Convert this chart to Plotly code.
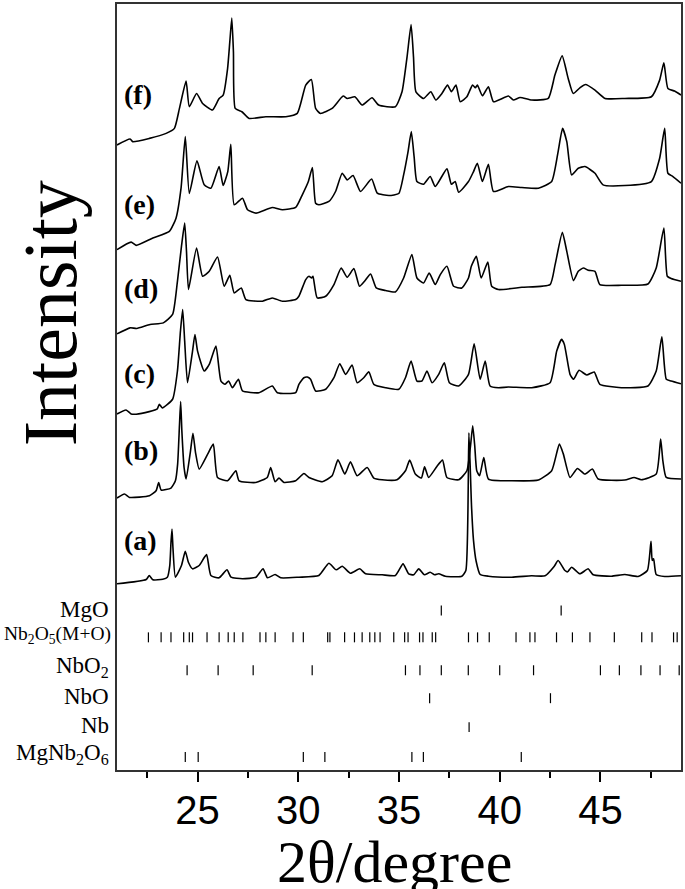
import plotly.graph_objects as go

# ---------------- data (2theta in degrees, intensity in arbitrary stacked units) ----------------
a_x = [21.0, 22.45, 22.6, 22.78, 23.27, 23.5, 23.62, 23.68, 23.73, 23.78, 23.9, 24.2, 24.39, 24.55, 24.75, 25.08, 25.3, 25.45,
       25.66, 26.07, 26.46, 26.66, 27.23, 27.9, 28.25, 28.47, 28.85, 29.13, 30.03, 31.02, 31.52, 31.88, 32.18, 32.59,
       33.05, 33.34, 34.16, 34.82, 35.2, 35.48, 35.73, 35.98, 36.26, 36.55, 36.77, 36.97, 37.3, 38.12, 38.32, 38.47,
       38.6, 38.7, 38.83, 39.03, 39.44, 40.6, 41.58, 42.25, 42.7, 42.9, 43.24, 43.37, 43.57, 43.98, 44.39, 44.64,
       45.55, 46.21, 46.87, 47.33, 47.51, 47.57, 47.64, 47.77, 48.19, 49.0]
a_y = [186.7, 191, 195, 190.7, 191.3, 193.3, 205, 228, 241.7, 222, 193.3, 205, 219.3, 208, 201.7, 205, 212, 216,
       195, 192.7, 200.7, 193.3, 191.7, 193.3, 201.7, 192.7, 196, 192.7, 193.3, 195, 207.3, 200.7, 204.3, 197.3,
       201.7, 196.7, 195.7, 195, 206.7, 196.7, 195.7, 201.7, 195.7, 198.3, 195.7, 196.7, 194.3, 194.3, 200, 338,
       265, 230, 209.3, 196, 194.3, 193.3, 194.7, 194.7, 204, 210, 200, 198.7, 203.3, 196.7, 201.7, 195.7,
       194.3, 196, 194, 200, 229.3, 210, 211.7, 196, 194, 194.7]

b_x = [21.0, 21.37, 21.62, 22.61, 22.94, 23.07, 23.19, 23.68, 23.9, 24.01, 24.1, 24.16, 24.22, 24.33, 24.43, 24.65,
       24.77, 24.9, 25.08, 25.5, 25.78, 25.99, 26.49, 26.9, 27.06, 27.89, 28.46, 28.63, 28.85, 29.04, 29.29, 29.87,
       30.28, 30.53, 31.19, 31.68, 31.97, 32.31, 32.59, 32.92, 33.42, 33.75, 34.16, 34.9, 35.32, 35.53, 35.81, 36.11,
       36.27, 36.47, 36.88, 37.16, 37.38, 37.96, 38.37, 38.55, 38.66, 38.76, 38.86, 39.0, 39.21, 39.44, 40.6, 41.92,
       42.58, 42.96, 43.16, 43.49, 43.86, 44.23, 44.6, 44.89, 46.21, 46.67, 47.03, 47.77, 47.99, 48.1, 48.27, 49.0]
b_y = [272.7, 276.7, 273.3, 275, 280, 288.3, 280.7, 282.7, 290, 306.7, 345, 369.3, 340, 303.3, 291.7, 320,
       337.7, 318, 301.7, 316.7, 326.7, 293.3, 290, 300, 290, 288.3, 293.3, 303.3, 289, 292.7, 288.3, 290,
       297.3, 293.3, 289, 295, 311, 296.7, 309, 295, 303.3, 292.7, 291, 291, 300, 310.7, 296.7, 292.7,
       304, 293.3, 304.3, 310.7, 293.3, 291, 300, 325, 345, 325, 300, 295, 313.3, 291.7, 290, 290.7,
       300, 326.7, 316.7, 293.3, 302.3, 296.7, 301.7, 291.7, 290.7, 293.3, 291, 296.7, 331.7, 310, 293.3, 291.7]

c_x = [21.0, 21.45, 21.7, 21.95, 22.6, 23.0, 23.1, 23.25, 23.76, 24.0, 24.15, 24.26, 24.36, 24.5, 24.75, 24.87, 25.0,
       25.33, 25.58, 25.91, 26.16, 26.36, 26.54, 26.73, 27.03, 27.23, 28.05, 28.71, 28.96, 29.87, 30.03, 30.28,
       30.45, 30.61, 30.86, 31.36, 31.77, 32.06, 32.35, 32.67, 32.92, 33.25, 33.5, 33.75, 34.33, 34.99, 35.32,
       35.6, 35.89, 36.14, 36.39, 36.64, 36.97, 37.25, 37.5, 37.96, 38.45, 38.73, 39.03, 39.28, 39.52, 39.94,
       40.43, 41.59, 42.5, 42.83, 43.07, 43.21, 43.49, 43.66, 43.94, 44.32, 44.69, 44.97, 46.04, 47.36, 47.77,
       48.05, 48.27, 48.51, 49.0]
c_y = [357, 361, 357, 356.7, 359.3, 362, 366.7, 363, 371.7, 400, 440, 461.7, 430, 388.3, 420, 436.7, 420,
       400, 406.7, 425, 390, 386.7, 390, 383.3, 391.7, 380, 378.3, 385, 378.3, 378.3, 386.7, 393.3,
       394, 391.7, 380, 381.7, 393.3, 407.3, 396.7, 406, 388.3, 393.3, 399.3, 386.7, 383.3, 381.7, 393.3,
       410, 390, 390, 400, 388.3, 396.7, 408.3, 388.3, 385, 396.7, 427.3, 391.7, 410, 385, 383.3,
       384, 383.3, 388.3, 420, 431.7, 426.7, 396.7, 391.7, 400.7, 396, 399, 386.7, 383.3, 385, 400,
       434.3, 391.7, 390, 387.3]

d_x = [21.0, 21.65, 21.98, 22.64, 23.3, 23.76, 24.0, 24.2, 24.36, 24.45, 24.55, 24.95, 25.25, 25.58, 25.99, 26.32,
       26.6, 26.82, 27.17, 27.4, 28.22, 28.71, 29.21, 29.87, 30.03, 30.37, 30.53, 30.66, 30.73, 30.94, 31.36,
       31.77, 32.13, 32.43, 32.76, 33.04, 33.29, 33.59, 33.87, 34.33, 34.82, 35.23, 35.64, 35.89, 36.22, 36.5,
       36.8, 37.05, 37.38, 37.71, 38.12, 38.45, 38.59, 38.84, 39.08, 39.41, 39.6, 39.94, 41.1, 42.5, 42.75, 43.11,
       43.33, 43.66, 43.9, 44.15, 44.4, 44.73, 44.97, 46.04, 47.36, 47.77, 48.15, 48.32, 48.51, 49.0]
d_y = [437.3, 443.3, 442.7, 446.7, 448.3, 456.7, 490, 525, 548.3, 520, 481.7, 523.3, 495, 500, 514.3, 485,
       496, 478.3, 483.3, 471.7, 470, 473.3, 470, 471.7, 475, 491.7, 495, 493.3, 495, 473.3, 475,
       486.7, 503.3, 494, 502.7, 485, 490, 497.3, 483.3, 480.7, 479.3, 493.3, 516.7, 493.3, 488.3, 498.3,
       486.7, 496.7, 505, 485, 483.3, 493.3, 505, 515, 493.3, 509.3, 485, 481.7, 484, 486.7, 506.7, 539,
       520, 490.7, 500, 503.3, 501, 500, 486.7, 486, 487.3, 503.3, 543.3, 495, 492.7, 490]

e_x = [21.0, 21.7, 21.95, 22.78, 23.6, 23.93, 24.18, 24.39, 24.59, 24.97, 25.33, 25.66, 26.07, 26.27, 26.5, 26.65,
       26.82, 27.23, 27.48, 27.9, 28.71, 29.21, 29.87, 30.2, 30.5, 30.7, 30.86, 31.02, 31.52, 31.85, 32.18, 32.43,
       32.72, 33.09, 33.64, 33.92, 34.5, 34.99, 35.23, 35.45, 35.61, 35.75, 35.89, 36.22, 36.55, 36.8, 37.38, 37.6,
       37.79, 37.96, 38.45, 38.7, 38.89, 39.14, 39.44, 39.69, 40.43, 41.1, 41.92, 42.58, 42.9, 43.12, 43.33, 43.57,
       43.9, 44.23, 44.73, 45.13, 46.21, 47.53, 47.94, 48.19, 48.35, 48.6, 49.0]
e_y = [521.7, 529.3, 526, 533.3, 540, 553.3, 583.3, 635, 578, 610.7, 586.7, 583.3, 605, 586, 600, 627.3,
       566.7, 573.3, 561.7, 558.3, 564, 561.7, 564, 576.7, 590, 604, 568.3, 566.7, 570, 580, 598.3, 591.7,
       596, 580, 592.5, 578.3, 576, 578, 596.7, 620, 640, 615, 590, 587.3, 595, 585, 602.7, 587.3,
       590, 579.3, 590, 600, 608.3, 590, 607.3, 580, 585, 584, 583.3, 590, 620, 643.3, 630, 596.7,
       603.3, 605, 598.3, 586.7, 586, 590, 613.3, 643.3, 598.3, 595, 588.3]

f_x = [21.0, 21.65, 21.78, 22.61, 23.44, 23.85, 24.1, 24.43, 24.59, 24.95, 25.25, 25.74, 26.07, 26.27, 26.49, 26.6,
       26.7, 26.78, 26.87, 27.2, 27.56, 28.39, 29.38, 29.95, 30.37, 30.65, 30.86, 31.1, 31.68, 32.23, 32.43, 32.81,
       33.17, 33.66, 33.99, 34.82, 35.15, 35.4, 35.6, 35.72, 35.84, 36.22, 36.58, 36.83, 37.13, 37.41, 37.6, 37.83,
       38.04, 38.37, 38.65, 38.79, 38.89, 39.14, 39.44, 39.69, 40.43, 40.68, 41.01, 41.59, 42.41, 42.74, 43.1, 43.4,
       43.65, 43.98, 44.26, 44.73, 45.23, 46.21, 47.53, 47.94, 48.15, 48.35, 48.68, 49.0]
f_y = [626.7, 632.7, 630, 633.3, 638.3, 643.3, 663.3, 690.7, 665, 678.3, 668.3, 661.7, 673.3, 676.7, 703.3, 730,
       754, 720, 663.3, 660, 653.3, 655, 655, 658.3, 686.7, 692.3, 663.3, 658.3, 663.3, 675.7, 673.3, 675,
       666.7, 674, 666.7, 665, 680, 715, 747.3, 715, 680, 673.3, 680, 671.7, 678.3, 686.7, 680, 686.7,
       670, 675, 686.7, 684, 686.7, 676, 685, 670, 675.7, 671.7, 674.3, 671.7, 673.3, 696.7, 716, 693.3,
       678.3, 684, 687.3, 681.7, 673.3, 673.3, 675, 691.7, 709, 683.3, 680.7, 676.7]

curve_names = ["(a)", "(b)", "(c)", "(d)", "(e)", "(f)"]

# reference pattern positions (2theta)
phase_names = ["MgO", "Nb<sub>2</sub>O<sub>5</sub>(M+O)", "NbO<sub>2</sub>", "NbO", "Nb", "MgNb<sub>2</sub>O<sub>6</sub>"]
ref_MgO = [37.1, 43.05]
ref_Nb2O5 = [22.56, 23.19, 23.68, 24.31, 24.59, 24.75, 25.47, 26.07, 26.52, 26.82, 27.25, 28.10, 28.39, 28.85,
             29.74, 30.25, 31.46, 31.57, 32.30, 32.79, 33.17, 33.55, 33.80, 34.06, 34.74, 35.28, 35.45, 36.02,
             36.19, 36.65, 36.82, 38.45, 38.90, 39.48, 40.81, 41.50, 41.75, 42.82, 43.61, 44.48, 45.69, 47.05,
             47.56, 48.63, 48.81]
ref_NbO2 = [24.48, 26.02, 27.76, 30.69, 35.32, 36.04, 37.10, 38.44, 40.00, 41.68, 45.00, 45.94, 47.01, 47.96, 48.91]
ref_NbO = [36.52, 42.52]
ref_Nb = [38.48]
ref_MgNb2O6 = [24.39, 25.03, 30.25, 31.32, 35.64, 36.21, 41.07]

x_ticks = [25, 30, 35, 40, 45]

# ---------------- layout constants ----------------
SERIF = "Liberation Serif, Times New Roman, serif"
SANS = "Liberation Sans Narrow, Arial Narrow, Liberation Sans, sans-serif"
label_y = [230, 320, 398, 483, 567, 677]
row_y = [160, 133, 100, 72, 43, 13]
label_row_y = [161, 135, 103, 74, 45, 16]
label_row_size = [23, 19.5, 23, 23, 23, 23]
label_row_shift = [-6, -4, -6, -6, -6, -6]
half_tick = 5

fig = go.Figure()
for xs, ys in [(a_x, a_y), (b_x, b_y), (c_x, c_y), (d_x, d_y), (e_x, e_y), (f_x, f_y)]:
    fig.add_trace(go.Scatter(x=xs, y=ys, mode="lines",
                             line=dict(color="black", width=1.6, shape="spline", smoothing=0.5),
                             showlegend=False, hoverinfo="skip"))

refs = [ref_MgO, ref_Nb2O5, ref_NbO2, ref_NbO, ref_Nb, ref_MgNb2O6]
for pos_list, lvl in zip(refs, row_y):
    xs, ys = [], []
    for p in pos_list:
        xs += [p, p, None]
        ys += [lvl - half_tick, lvl + half_tick, None]
    fig.add_trace(go.Scatter(x=xs, y=ys, mode="lines", line=dict(color="black", width=1.2),
                             showlegend=False, hoverinfo="skip"))

annotations = []
for name, yy in zip(curve_names, label_y):
    annotations.append(dict(x=21.27, y=yy, xref="x", yref="y", text="<b>" + name + "</b>", showarrow=False,
                            xanchor="left", yanchor="middle", font=dict(family=SERIF, size=28, color="black")))
for name, yy, sz, sh in zip(phase_names, label_row_y, label_row_size, label_row_shift):
    annotations.append(dict(x=0, y=yy, xref="paper", yref="y", text=name, showarrow=False, xshift=sh,
                            xanchor="right", yanchor="middle", font=dict(family=SERIF, size=sz, color="black")))
annotations.append(dict(x=0, y=458, xref="paper", yref="y", text="Intensity", showarrow=False, xshift=-67,
                        textangle=-90, xanchor="center", yanchor="middle",
                        font=dict(family=SERIF, size=76, color="black")))
annotations.append(dict(x=34.8, y=0, xref="x", yref="paper", text="2θ/degree", showarrow=False, yshift=-92,
                        xanchor="center", yanchor="middle", font=dict(family=SERIF, size=60, color="black")))

fig.update_layout(
    width=685, height=889,
    margin=dict(l=117, r=2, t=2, b=119),
    paper_bgcolor="white", plot_bgcolor="white",
    annotations=annotations,
    xaxis=dict(range=[21, 49], tickvals=x_ticks, ticktext=[str(v) for v in x_ticks],
               ticks="outside", ticklen=10, tickwidth=2, tickcolor="black", ticklabelstandoff=-6,
               minor=dict(dtick=2.5, tick0=0, ticks="outside", ticklen=6, tickwidth=1.5, tickcolor="black"),
               showline=True, linecolor="#333", linewidth=2, mirror=True, showgrid=False, zeroline=False,
               tickfont=dict(family=SANS, size=40, color="black")),
    yaxis=dict(range=[0, 768], showticklabels=False, ticks="", showline=True, linecolor="#333",
               linewidth=2, mirror=True, showgrid=False, zeroline=False),
)

fig.write_html("out.html", config={"displayModeBar": False},
               post_script="document.body.style.margin='0px';document.body.style.overflow='hidden';")
